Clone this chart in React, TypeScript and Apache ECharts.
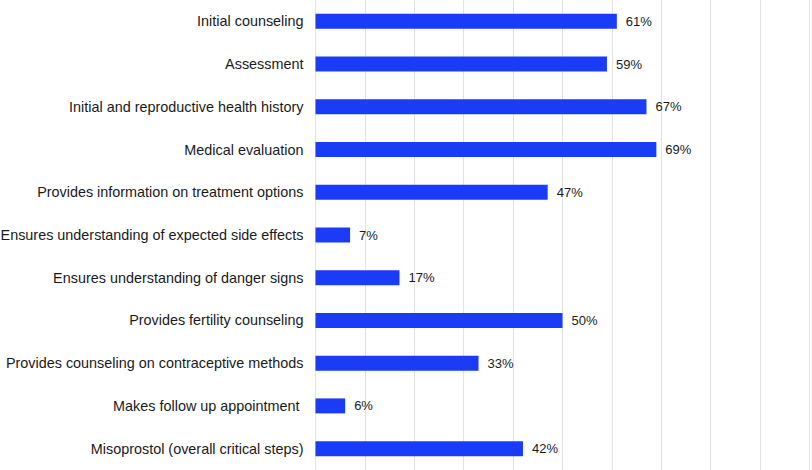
import React, { useEffect, useRef } from "react";
import * as echarts from "echarts";

const categories = [
  "Initial counseling",
  "Assessment",
  "Initial and reproductive health history",
  "Medical evaluation",
  "Provides information on treatment options",
  "Ensures understanding of expected side effects",
  "Ensures understanding of danger signs",
  "Provides fertility counseling",
  "Provides counseling on contraceptive methods",
  "Makes follow up appointment ",
  "Misoprostol (overall critical steps)",
];
const values = [61, 59, 67, 69, 47, 7, 17, 50, 33, 6, 42];

export default function App() {
  const ref = useRef<HTMLDivElement>(null);
  useEffect(() => {
    if (!ref.current) return;
    const chart = echarts.init(ref.current, null, { renderer: "svg" });
    chart.setOption({
      animation: false,
      backgroundColor: "#ffffff",
      grid: {
        left: 315.5,
        right: 2.5,
        top: 0,
        bottom: 0,
        containLabel: false,
        outerBoundsMode: "none",
      },
      xAxis: {
        type: "value",
        min: 0,
        max: 100,
        interval: 10,
        axisLabel: { show: false },
        axisLine: { show: false },
        axisTick: { show: false },
        splitLine: { show: true, lineStyle: { color: "#e3e3e6", width: 1 } },
      },
      yAxis: {
        type: "category",
        data: categories,
        inverse: true,
        axisLine: { show: false },
        axisTick: { show: false },
        axisLabel: {
          color: "#1a1a1a",
          fontFamily: "Liberation Sans, Arial, sans-serif",
          fontSize: 14.4,
          margin: 12,
        },
      },
      series: [
        {
          type: "bar",
          data: values,
          barWidth: 15,
          itemStyle: { color: "#1a3cf7" },
          label: {
            show: true,
            position: "right",
            distance: 9,
            formatter: "{c}%",
            color: "#1a1a1a",
            fontFamily: "Liberation Sans, Arial, sans-serif",
            fontSize: 13,
          },
        },
      ],
    });
    return () => chart.dispose();
  }, []);
  return (
    <div
      ref={ref}
      style={{ position: "fixed", left: 0, top: 0, width: 812, height: 470 }}
    />
  );
}
